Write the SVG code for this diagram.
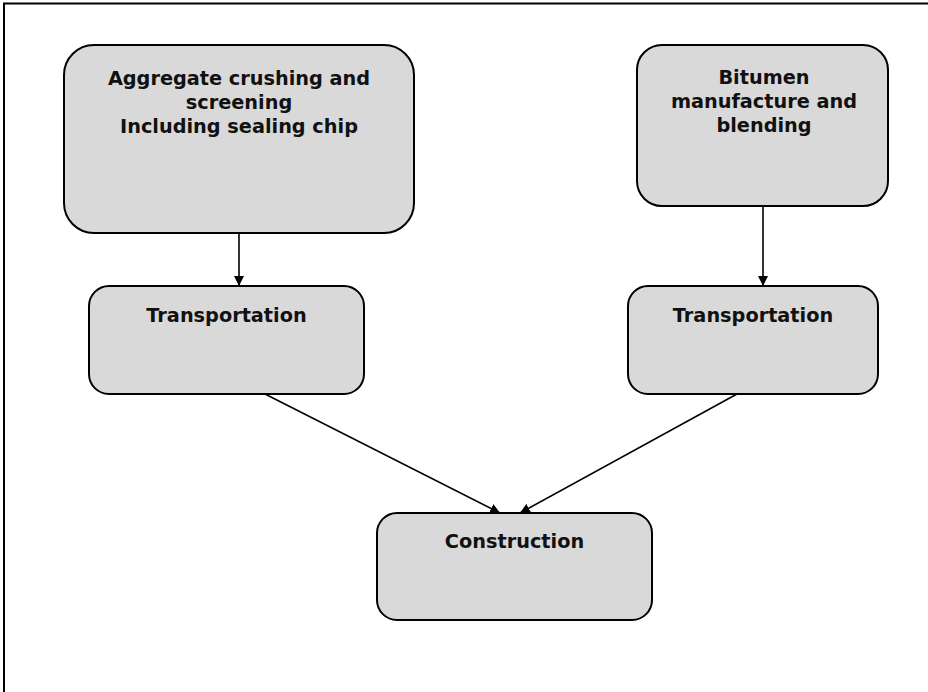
<svg xmlns="http://www.w3.org/2000/svg" width="928" height="692" viewBox="0 0 928 692">
<style>
.box{fill:#d9d9d9;stroke:#000;stroke-width:2}
.t{font-family:"DejaVu Sans",Verdana,sans-serif;font-weight:bold;font-size:19.3px;fill:#111;text-anchor:middle}
.c{stroke:#000;stroke-width:1.6;fill:none;marker-end:url(#ah)}
</style>
<defs>
<marker id="ah" viewBox="0 0 10 10" refX="10" refY="5" markerWidth="10" markerHeight="10" markerUnits="userSpaceOnUse" orient="auto">
<path d="M0,0 L10,5 L0,10 z" fill="#000"/>
</marker>
</defs>
<rect x="0" y="0" width="928" height="692" fill="#fff"/>
<path d="M4,700 V3.5 H940" fill="none" stroke="#000" stroke-width="2"/>
<g id="connectors">
<line class="c" x1="239" y1="233" x2="239" y2="286"/>
<line class="c" x1="763" y1="206" x2="763" y2="286"/>
<line class="c" x1="265" y1="394" x2="500" y2="513"/>
<line class="c" x1="737" y1="394" x2="520" y2="513"/>
</g>
<g id="aggregate">
<rect class="box" x="64" y="45" width="350" height="188" rx="30"/>
<text class="t" x="239" y="85">Aggregate crushing and</text>
<text class="t" x="239" y="109">screening</text>
<text class="t" x="239" y="133">Including sealing chip</text>
</g>
<g id="bitumen">
<rect class="box" x="637" y="45" width="251" height="161" rx="25"/>
<text class="t" x="764" y="84">Bitumen</text>
<text class="t" x="764" y="108">manufacture and</text>
<text class="t" x="764" y="132">blending</text>
</g>
<g id="transport1">
<rect class="box" x="89" y="286" width="275" height="108" rx="20"/>
<text class="t" x="226.5" y="322">Transportation</text>
</g>
<g id="transport2">
<rect class="box" x="628" y="286" width="250" height="108" rx="20"/>
<text class="t" x="753" y="322">Transportation</text>
</g>
<g id="construction">
<rect class="box" x="377" y="513" width="275" height="107" rx="20"/>
<text class="t" x="514.5" y="548">Construction</text>
</g>
</svg>
